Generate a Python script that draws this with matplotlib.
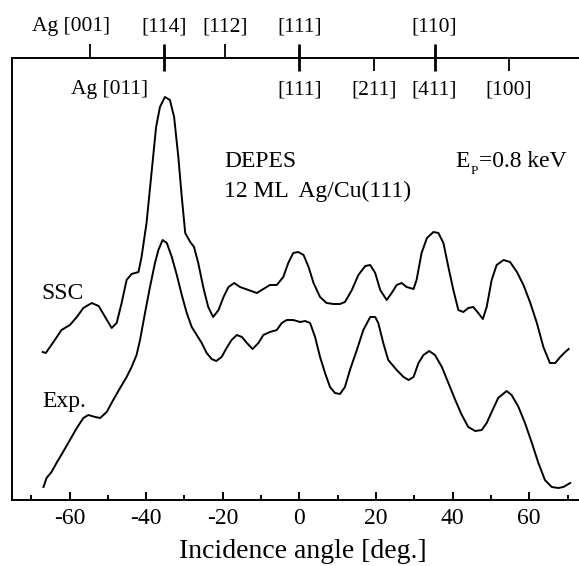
import matplotlib

matplotlib.use("Agg")

import matplotlib.pyplot as plt

plt.rcParams["font.family"] = ["Liberation Serif", "DejaVu Serif"]

# incidence angle (deg) and intensity (a.u.)
ssc_angle = [
    -67.0, -66.2, -64.2, -62.1, -59.9, -58.1, -56.4, -54.2, -52.4, -50.7,
    -49.0, -47.7, -46.4, -45.1, -43.8, -42.0, -41.2, -39.9, -38.6, -37.4,
    -36.4, -35.1, -33.8, -32.7, -31.6, -30.7, -29.8, -28.5, -27.5, -26.4,
    -25.1, -23.8, -22.5, -21.1, -19.8, -18.5, -17.0, -15.5, -13.3, -11.1,
    -9.4, -7.7, -5.9, -4.2, -2.9, -1.6, -0.3,
    1.1, 2.4, 3.7, 5.4, 7.1, 8.9, 10.6, 11.9, 13.7, 15.4,
    17.2, 18.5, 19.8, 21.1, 22.8, 24.1, 25.4, 26.7, 28.0, 29.8,
    30.6, 31.9, 33.3, 35.0, 36.3, 37.6, 38.9, 40.2, 41.5, 42.8,
    44.1, 45.4, 46.7, 47.9, 48.9, 50.2, 51.5, 53.3, 55.0, 56.8,
    58.5, 60.2, 62.0, 63.7, 65.4, 66.8, 68.1, 69.4, 70.3,
]
ssc_intensity = [
    148, 147, 158, 170, 175, 183, 192, 197, 194, 183,
    172, 177, 197, 220, 226, 228, 243, 277, 327, 373,
    393, 403, 400, 383, 343, 303, 267, 258, 253, 237,
    213, 193, 183, 190, 203, 213, 217, 213, 210, 207,
    211, 215, 215, 223, 237, 247, 248,
    245, 233, 217, 203, 197, 196, 196, 198, 210, 225,
    234, 235, 227, 210, 200, 207, 215, 217, 213, 211,
    220, 247, 262, 268, 267, 257, 233, 210, 190, 188,
    192, 193, 187, 181, 193, 220, 235, 240, 238, 228,
    215, 198, 177, 153, 137, 137, 143, 148, 151,
]

exp_angle = [
    -66.8, -66.0, -64.7, -63.4, -61.7, -59.9, -58.1, -56.4, -55.1, -53.3,
    -52.0, -50.3, -48.6, -46.8, -45.1, -43.8, -42.5, -41.6, -40.3, -39.0,
    -37.7, -36.8, -35.7, -34.6, -33.3, -32.0, -30.7, -29.4, -28.1, -26.8,
    -25.5, -24.2, -22.9, -21.7, -20.3, -19.0, -17.7, -16.3, -15.0, -13.7,
    -12.2, -10.7, -9.4, -7.7, -5.9, -4.6, -3.3, -1.6, 0.2,
    1.5, 2.8, 4.1, 5.4, 6.7, 8.0, 9.3, 10.6, 11.9, 13.2,
    15.0, 16.7, 18.5, 19.8, 20.6, 21.9, 23.2, 25.4, 27.2, 28.5,
    29.8, 31.1, 32.4, 33.9, 35.4, 37.2, 38.9, 40.7, 42.4, 44.1,
    45.9, 47.6, 48.9, 50.2, 51.9, 54.1, 55.4, 57.2, 58.9, 60.7,
    62.4, 64.1, 65.9, 67.6, 68.9, 70.7,
]
exp_intensity = [
    13, 22, 28, 37, 48, 60, 72, 82, 85, 83,
    82, 88, 100, 112, 123, 133, 145, 160, 187, 213,
    237, 250, 260, 257, 243, 225, 205, 187, 173, 165,
    157, 147, 141, 139, 143, 152, 160, 165, 163, 157,
    151, 157, 165, 168, 170, 177, 180, 180, 178,
    179, 177, 163, 143, 127, 113, 107, 106, 113, 130,
    150, 170, 183, 183, 177, 157, 140, 130, 123, 120,
    123, 137, 145, 149, 145, 133, 117, 100, 85, 73,
    69, 70, 77, 88, 102, 109, 105, 93, 77, 57,
    37, 20, 13, 12, 13, 17,
]

# crystal directions marked on the top axis (deg)
upper_dir_angle = [-54.7, -35.3, -19.5, 0.0, 35.3]
upper_dir_label = ["Ag [001]", "[114]", "[112]", "[111]", "[110]"]
lower_dir_angle = [-35.3, 0.0, 19.5, 35.3, 54.7]
lower_dir_label = ["Ag [011]", "[111]", "[211]", "[411]", "[100]"]

x_ticks = [-60, -40, -20, 0, 20, 40, 60]
x_minor = [-70, -50, -30, -10, 10, 30, 50, 70]


def plot_depes():
    fig = plt.figure(figsize=(5.79, 5.66), dpi=100)
    ax = fig.add_axes([0.0202, 0.1166, 0.9798, 0.7804])

    for xs, ys in [(ssc_angle, ssc_intensity), (exp_angle, exp_intensity)]:
        ax.plot(xs, ys, color="black", linewidth=1.4,
                solid_joinstyle="round")

    ax.set_xlim(-75.1, 73.0)
    ax.set_ylim(0, 441.7)
    ax.set_yticks([])
    ax.set_xticks(x_ticks, [str(t) for t in x_ticks])
    ax.set_xticks(x_minor, minor=True)
    ax.tick_params(axis="x", which="major", direction="in", length=6,
                   width=1.4, labelsize=17, pad=6)
    ax.tick_params(axis="x", which="minor", direction="in", length=3.4,
                   width=1.4)
    ax.spines["right"].set_visible(False)
    for side in ["left", "bottom", "top"]:
        ax.spines[side].set_linewidth(1.4)

    # top scale with the crystal directions
    trans = ax.get_xaxis_transform()
    both = sorted(set(upper_dir_angle) & set(lower_dir_angle))
    for a in upper_dir_angle:
        lw = 2.0 if a in both else 1.3
        ax.plot([a, a], [1.0, 1.0324], transform=trans, color="black",
                linewidth=lw, clip_on=False, solid_capstyle="butt")
    for a in lower_dir_angle:
        lw = 2.0 if a in both else 1.3
        ax.plot([a, a], [0.9712, 1.0], transform=trans, color="black",
                linewidth=lw, clip_on=False, solid_capstyle="butt")

    for a, lab in zip(upper_dir_angle, upper_dir_label):
        if lab.startswith("Ag"):
            ax.text(-69.7, 1.0609, lab, transform=trans, fontsize=15.5,
                    ha="left", va="baseline")
        else:
            ax.text(a, 1.0609, lab, transform=trans, fontsize=15.5,
                    ha="center", va="baseline")
    for a, lab in zip(lower_dir_angle, lower_dir_label):
        if lab.startswith("Ag"):
            ax.text(a - 4.3, 0.919, lab, transform=trans, fontsize=15.5,
                    ha="right", va="baseline")
        else:
            ax.text(a, 0.919, lab, transform=trans, fontsize=15.5,
                    ha="center", va="baseline")

    ax.text(-19.7, 333, "DEPES", fontsize=17, va="baseline")
    ax.text(-19.7, 303, "12 ML  Ag/Cu(111)", fontsize=17, va="baseline")
    # E_P = 0.8 keV, with a small lowered P
    ax.text(40.8, 333, "E", fontsize=17, va="baseline")
    ax.annotate("P", xy=(40.8, 333), xytext=(10.5, -5),
                textcoords="offset points", fontsize=9.5, va="baseline")
    ax.annotate("=0.8 keV", xy=(40.8, 333), xytext=(16.5, 0),
                textcoords="offset points", fontsize=17, va="baseline")
    ax.text(-67.4, 201, "SSC", fontsize=17, va="baseline")
    ax.text(-67.0, 93, "Exp.", fontsize=17, va="baseline")

    fig.text(0.5225, 0.0141, "Incidence angle [deg.]", fontsize=20,
             ha="center", va="baseline")

    fig.savefig("out.png", dpi=100)
    plt.close(fig)


if __name__ == "__main__":
    plot_depes()
